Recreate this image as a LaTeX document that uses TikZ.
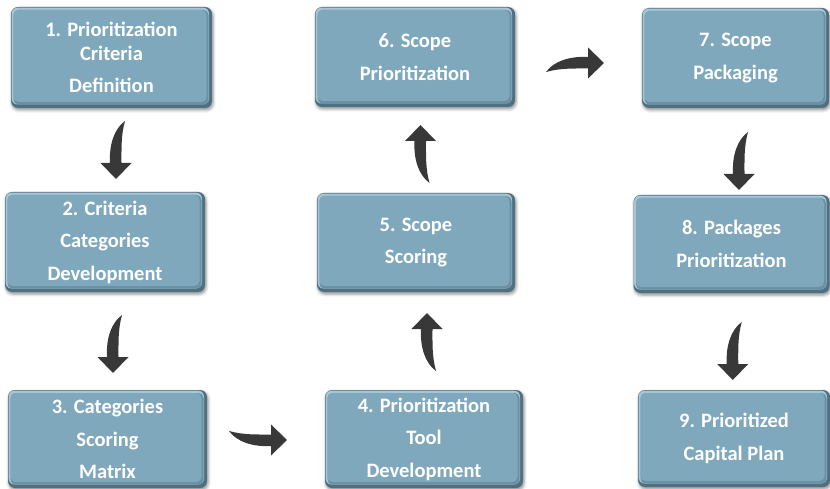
\documentclass[tikz,border=0pt]{standalone}
\usepackage{fontspec}
\setmainfont{Carlito}
\usetikzlibrary{calc,shadows.blur}

\definecolor{boxmain}{HTML}{80A8BD}
\definecolor{boxlight}{HTML}{A6C6D6}
\definecolor{boxmid}{HTML}{6A90A3}
\definecolor{boxdark}{HTML}{4E7080}
\definecolor{arrowgray}{HTML}{383838}

\tikzset{
  stepbox/.style={
    rounded corners=7pt, fill=boxdark, inner sep=0pt, align=center,
    text=white, font=\bfseries\fontsize{20.5}{32.5}\selectfont,
    blur shadow={shadow xshift=1pt, shadow yshift=-2pt,
                 shadow blur radius=3pt, shadow opacity=45},
    path picture={
      \fill[boxlight, rounded corners=6pt]
        ($(path picture bounding box.north west)+(0.6pt,-0.6pt)$) rectangle
        ($(path picture bounding box.south east)+(-3pt,3.5pt)$);
      \fill[boxmid, rounded corners=5pt]
        ($(path picture bounding box.north west)+(2.5pt,-3pt)$) rectangle
        ($(path picture bounding box.south east)+(-3.5pt,3.5pt)$);
      \fill[boxmain, rounded corners=5pt]
        ($(path picture bounding box.north west)+(2.5pt,-3pt)$) rectangle
        ($(path picture bounding box.south east)+(-5.5pt,6pt)$);
    }
  },
  % tapered, bent block arrow pointing along +x, tip at (30pt,0)
  pics/bentarrow/.style={code={
    \fill[arrowgray] (30pt,0pt) -- (14pt,15.5pt) -- (14pt,6pt)
      .. controls (-4pt,7pt) and (-20pt,2pt) .. (-28pt,-9pt)
      .. controls (-14pt,-5pt) and (0pt,-5.5pt) .. (14pt,-5.5pt)
      -- (14pt,-15.5pt) -- cycle;
  }}
}

\begin{document}
\begin{tikzpicture}[x=1pt,y=1pt]
\useasboundingbox (0,0) rectangle (830,-489);

\node[stepbox, minimum width=201pt, minimum height=101pt] (b1) at (111.5,-57.5)
  {1. Prioritization\\[-9pt]Criteria\\Definition};
\node[stepbox, minimum width=200pt, minimum height=100pt] (b2) at (105,-242)
  {2. Criteria\\Categories\\Development};
\node[stepbox, minimum width=199pt, minimum height=98pt] (b3) at (107.5,-439)
  {3. Categories\\Scoring\\Matrix};
\node[stepbox, minimum width=198pt, minimum height=98pt] (b4) at (424,-439)
  {4. Prioritization\\Tool\\Development};
\node[stepbox, minimum width=198pt, minimum height=99pt] (b5) at (416,-242.5)
  {5. Scope\\Scoring};
\node[stepbox, minimum width=200pt, minimum height=100pt] (b6) at (415,-57)
  {6. Scope\\Prioritization};
\node[stepbox, minimum width=187pt, minimum height=100pt] (b7) at (735.5,-58)
  {7. Scope\\Packaging};
\node[stepbox, minimum width=196pt, minimum height=98pt] (b8) at (731.5,-244)
  {8. Packages\\Prioritization};
\node[stepbox, minimum width=192pt, minimum height=97pt] (b9) at (734,-438.5)
  {9. Prioritized\\Capital Plan};

% bent arrows between consecutive steps
\pic[rotate=-90, yscale=-1] at ($(b1.south)!0.5!(b2.north)+(7.75,1)$) {bentarrow};
\pic[rotate=-90, yscale=-1] at ($(b2.south)!0.5!(b3.north)+(6.75,-2)$) {bentarrow};
\pic[yscale=-1] at ($(b3.east)!0.5!(b4.west)+(-9,-1)$) {bentarrow};
\pic[rotate=90] at ($(b4.north)!0.5!(b5.south)+(7,-2)$) {bentarrow};
\pic[rotate=90] at ($(b5.north)!0.5!(b6.south)+(5,-5)$) {bentarrow};
\pic at ($(b6.east)!0.5!(b7.west)+(-4.5,-5.5)$) {bentarrow};
\pic[rotate=-90, yscale=-1] at ($(b7.south)!0.5!(b8.north)+(5.5,-8.5)$) {bentarrow};
\pic[rotate=-90, yscale=-1] at ($(b8.south)!0.5!(b9.north)+(0,-8.5)$) {bentarrow};
\end{tikzpicture}
\end{document}
